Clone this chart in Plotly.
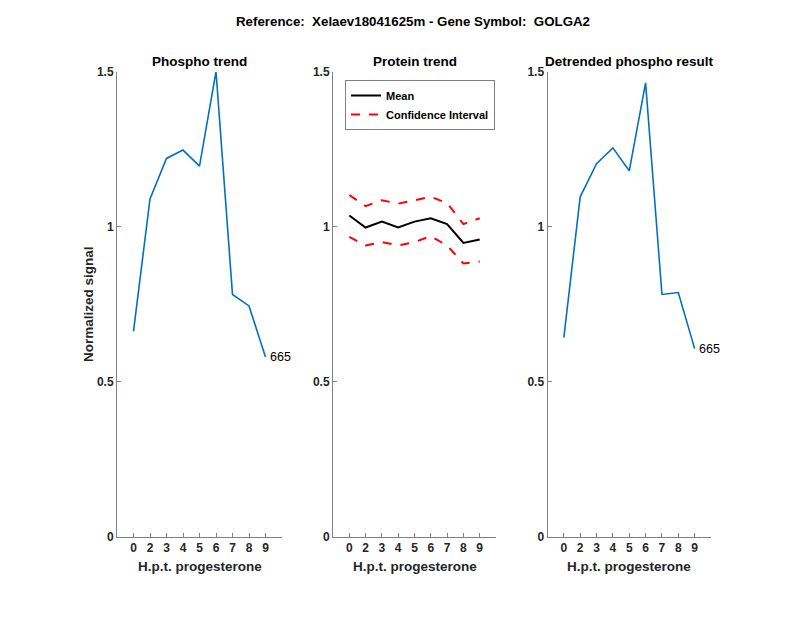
import plotly.graph_objects as go

W, H = 800, 618

time_labels = ["0", "2", "3", "4", "5", "6", "7", "8", "9"]
x_pos = [1, 2, 3, 4, 5, 6, 7, 8, 9]

phospho = [0.663, 1.090, 1.221, 1.248, 1.196, 1.501, 0.782, 0.745, 0.580]
protein_mean = [1.037, 0.998, 1.017, 0.998, 1.017, 1.028, 1.009, 0.948, 0.959]
protein_upper = [1.103, 1.067, 1.086, 1.075, 1.086, 1.097, 1.077, 1.009, 1.028]
protein_lower = [0.968, 0.940, 0.951, 0.940, 0.951, 0.970, 0.940, 0.882, 0.888]
detrended = [0.643, 1.097, 1.204, 1.255, 1.181, 1.465, 0.782, 0.788, 0.607]

peptide_label = "665"
main_title = "Reference:  Xelaev18041625m - Gene Symbol:  GOLGA2"
sub_titles = ["Phospho trend", "Protein trend", "Detrended phospho result"]
x_title = "H.p.t. progesterone"
y_title = "Normalized signal"

FONT = "Liberation Sans, Arial, Helvetica, sans-serif"
AXC = "#808080"
BLUE = "#0072BD"

OFF = 8  # page body margin of the browser


def px(v):
    return 1 - (v - OFF) / H


def pxx(v):
    return (v - OFF) / W


# axis domains in pixels (as seen in the reference)
xdom_px = [(117, 282), (333, 496), (547.5, 711)]
ytop, ybot = 72, 536.7
ydom = [px(ybot), px(ytop)]

fig = go.Figure()

fig.add_trace(go.Scatter(x=x_pos, y=phospho, mode="lines", line=dict(color=BLUE, width=1.6),
                         showlegend=False, xaxis="x", yaxis="y"))
fig.add_trace(go.Scatter(x=x_pos, y=protein_mean, mode="lines", name="Mean",
                         line=dict(color="black", width=2), xaxis="x2", yaxis="y2"))
fig.add_trace(go.Scatter(x=x_pos, y=protein_upper, mode="lines", name="Confidence Interval",
                         line=dict(color="red", width=2, dash="dash"), xaxis="x2", yaxis="y2"))
fig.add_trace(go.Scatter(x=x_pos, y=protein_lower, mode="lines", name="Confidence Interval",
                         line=dict(color="red", width=2, dash="dash"), showlegend=False,
                         xaxis="x2", yaxis="y2"))
fig.add_trace(go.Scatter(x=x_pos, y=detrended, mode="lines", line=dict(color=BLUE, width=1.6),
                         showlegend=False, xaxis="x3", yaxis="y3"))

layout = dict(
    width=W, height=H,
    margin=dict(l=0, r=0, t=0, b=0, autoexpand=False),
    paper_bgcolor="white", plot_bgcolor="white",
    font=dict(family=FONT, color="black"),
    showlegend=True,
    legend=dict(x=pxx(345), y=px(80), xanchor="left", yanchor="top",
                bordercolor=AXC, borderwidth=1, bgcolor="white",
                font=dict(family=FONT, size=11, weight="bold", color="black"),
                tracegroupgap=0, itemwidth=30),
)

annotations = []
for i, (x0, x1) in enumerate(xdom_px):
    sfx = "" if i == 0 else str(i + 1)
    layout["xaxis" + sfx] = dict(
        domain=[pxx(x0), pxx(x1)], range=[0, 10], anchor="y" + sfx,
        tickvals=x_pos, ticktext=time_labels,
        ticks="inside", ticklen=4, tickcolor=AXC, automargin=False,
        showline=True, linecolor=AXC, linewidth=1,
        showgrid=False, zeroline=False,
        tickfont=dict(family=FONT, size=12, weight="bold", color="#262626"),
    )
    layout["yaxis" + sfx] = dict(
        domain=ydom, range=[0, 1.5], anchor="x" + sfx,
        tickvals=[0, 0.5, 1, 1.5], ticktext=["0", "0.5", "1", "1.5"],
        ticks="inside", ticklen=4, tickcolor=AXC, automargin=False,
        showline=True, linecolor=AXC, linewidth=1,
        showgrid=False, zeroline=False,
        tickfont=dict(family=FONT, size=12, weight="bold", color="#262626"),
    )
    cx = pxx((x0 + x1) / 2)
    annotations.append(dict(text="<b>" + sub_titles[i] + "</b>", x=cx, y=px(61),
                            xref="paper", yref="paper", showarrow=False,
                            xanchor="center", yanchor="middle",
                            font=dict(family=FONT, size=13.5, color="black")))
    annotations.append(dict(text="<b>" + x_title + "</b>", x=cx, y=px(566),
                            xref="paper", yref="paper", showarrow=False,
                            xanchor="center", yanchor="middle",
                            font=dict(family=FONT, size=13.5, color="#262626")))

annotations.append(dict(text="<b>" + y_title + "</b>", x=pxx(88), y=px(304),
                        xref="paper", yref="paper", showarrow=False, textangle=-90,
                        xanchor="center", yanchor="middle",
                        font=dict(family=FONT, size=13.5, color="#262626")))
annotations.append(dict(text="<b>" + main_title + "</b>", x=pxx(413), y=px(22),
                        xref="paper", yref="paper", showarrow=False,
                        xanchor="center", yanchor="middle",
                        font=dict(family=FONT, size=13.3, color="black")))
annotations.append(dict(text=peptide_label, x=9, y=phospho[-1], xref="x", yref="y",
                        showarrow=False, xanchor="left", yanchor="middle", xshift=2,
                        font=dict(family=FONT, size=12.5, color="black")))
annotations.append(dict(text=peptide_label, x=9, y=detrended[-1], xref="x3", yref="y3",
                        showarrow=False, xanchor="left", yanchor="middle", xshift=2,
                        font=dict(family=FONT, size=12.5, color="black")))
layout["annotations"] = annotations

fig.update_layout(**layout)
fig.write_html("out.html")
